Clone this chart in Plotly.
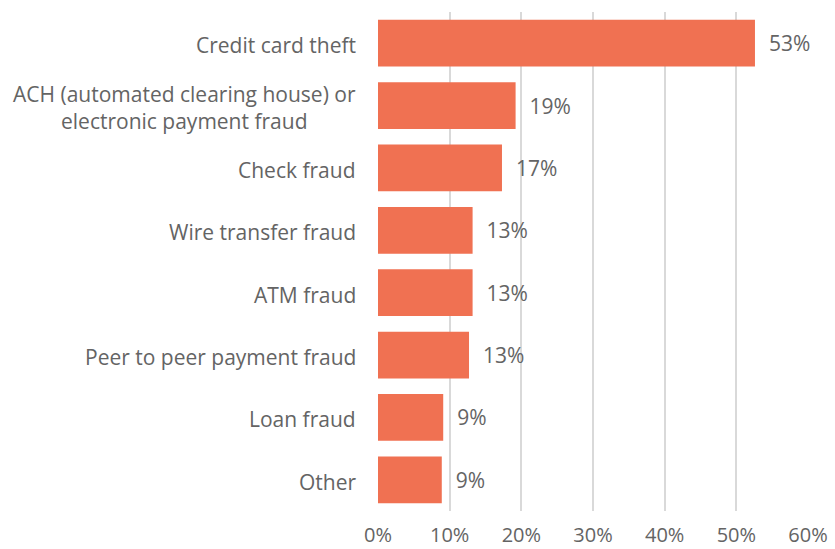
import plotly.graph_objects as go

# Fraud types experienced (share of respondents, %)
categories = [
    "Credit card theft",
    "ACH (automated clearing house) or<br>electronic payment fraud",
    "Check fraud",
    "Wire transfer fraud",
    "ATM fraud",
    "Peer to peer payment fraud",
    "Loan fraud",
    "Other",
]
values = [52.6, 19.2, 17.3, 13.2, 13.2, 12.7, 9.1, 8.9]
tick_vals = [0, 10, 20, 30, 40, 50, 60]
tick_text = ["0%", "10%", "20%", "30%", "40%", "50%", "60%"]

BAR = "#F07152"
TEXT = "#646464"
GRID = "#D9D9D9"
FONT = "Open Sans"

fig = go.Figure(
    go.Bar(
        x=values,
        y=categories,
        orientation="h",
        marker=dict(color=BAR, line=dict(width=0)),
        texttemplate="  %{x:.0f}%",
        textposition="outside",
        cliponaxis=False,
        textfont=dict(family=FONT, size=21, color=TEXT),
        hoverinfo="skip",
    )
)

# Category labels, centred on each line like the original layout
for cat in categories:
    fig.add_annotation(
        x=0, xref="paper", xanchor="right", xshift=-20, yshift=-2,
        y=cat, yref="y", yanchor="middle",
        text=cat, showarrow=False, align="center",
        font=dict(family=FONT, size=21, color=TEXT),
    )

fig.update_layout(
    width=835, height=549,
    margin=dict(l=378, r=27, t=12, b=38, autoexpand=False),
    paper_bgcolor="white", plot_bgcolor="white",
    bargap=0.25,
    showlegend=False,
    font=dict(family=FONT, size=20, color=TEXT),
)
fig.update_xaxes(
    range=[0, 60],
    tickvals=tick_vals, ticktext=tick_text,
    showgrid=True, gridcolor=GRID, gridwidth=2,
    zeroline=False, showline=False, automargin=False,
    tickfont=dict(family=FONT, size=20, color=TEXT),
    ticks="", ticklabelstandoff=10,
)
fig.update_yaxes(
    categoryorder="array", categoryarray=categories[::-1],
    showticklabels=False, showgrid=False, zeroline=False, showline=False,
    automargin=False,
)

fig.write_html("out.html")
